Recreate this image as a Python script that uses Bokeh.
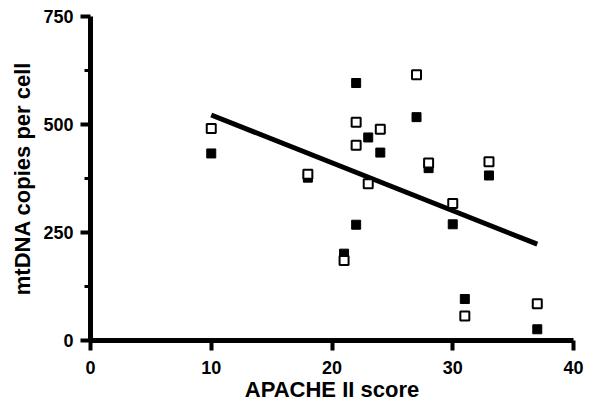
from bokeh.plotting import figure
from bokeh.models import Range1d, FixedTicker
from bokeh.embed import file_html
from bokeh.resources import INLINE

# Data
open_x = [10, 18, 21, 22, 22, 23, 24, 27, 28, 30, 31, 33, 37]
open_y = [491, 385, 185, 505, 452, 363, 489, 615, 411, 317, 57, 414, 85]
filled_x = [10, 18, 21, 22, 22, 23, 24, 27, 28, 30, 31, 33, 37]
filled_y = [433, 377, 201, 596, 268, 470, 435, 517, 399, 269, 96, 382, 26]
fit_x = [10, 37]
fit_y = [522, 223]
x_ticks = [0, 10, 20, 30, 40]
y_ticks = [0, 250, 500, 750]
y_minor = [125, 375, 625]

FONT = "Liberation Sans"

p = figure(frame_width=483, frame_height=324, output_backend="svg", toolbar_location=None,
           x_range=Range1d(0, 40), y_range=Range1d(0, 750),
           min_border_left=90, min_border_top=16, min_border_right=11, min_border_bottom=54)
p.outline_line_color = None
p.xgrid.visible = False
p.ygrid.visible = False

for ax in (p.xaxis[0], p.yaxis[0]):
    ax.axis_line_width = 5
    ax.axis_line_color = "black"
    ax.major_tick_line_width = 4
    ax.minor_tick_line_width = 3
    ax.major_tick_in = 0
    ax.major_tick_out = 10
    ax.minor_tick_in = 0
    ax.minor_tick_out = 6
    ax.major_label_text_font = FONT
    ax.major_label_text_font_style = "bold"
    ax.major_label_text_font_size = "18px"
    ax.major_label_text_color = "black"
    ax.axis_label_text_font = FONT
    ax.axis_label_text_font_style = "bold"
    ax.axis_label_text_font_size = "22px"
    ax.axis_label_text_color = "black"

p.xaxis.ticker = FixedTicker(ticks=x_ticks, minor_ticks=[])
p.yaxis.ticker = FixedTicker(ticks=y_ticks, minor_ticks=y_minor)
p.xaxis.axis_label = "APACHE II score"
p.yaxis.axis_label = "mtDNA copies per cell"
p.xaxis.major_label_standoff = 10
p.xaxis.axis_label_standoff = 0
p.yaxis.major_label_standoff = 7
p.yaxis.axis_label_standoff = 5

p.line(fit_x, fit_y, line_width=5, line_color="black")
p.scatter(filled_x, filled_y, marker="square", size=9, fill_color="black", line_color="black", line_width=1)
p.scatter(open_x, open_y, marker="square", size=9, fill_color="white", line_color="black", line_width=2)

open("out.html", "w").write(file_html(p, INLINE))
